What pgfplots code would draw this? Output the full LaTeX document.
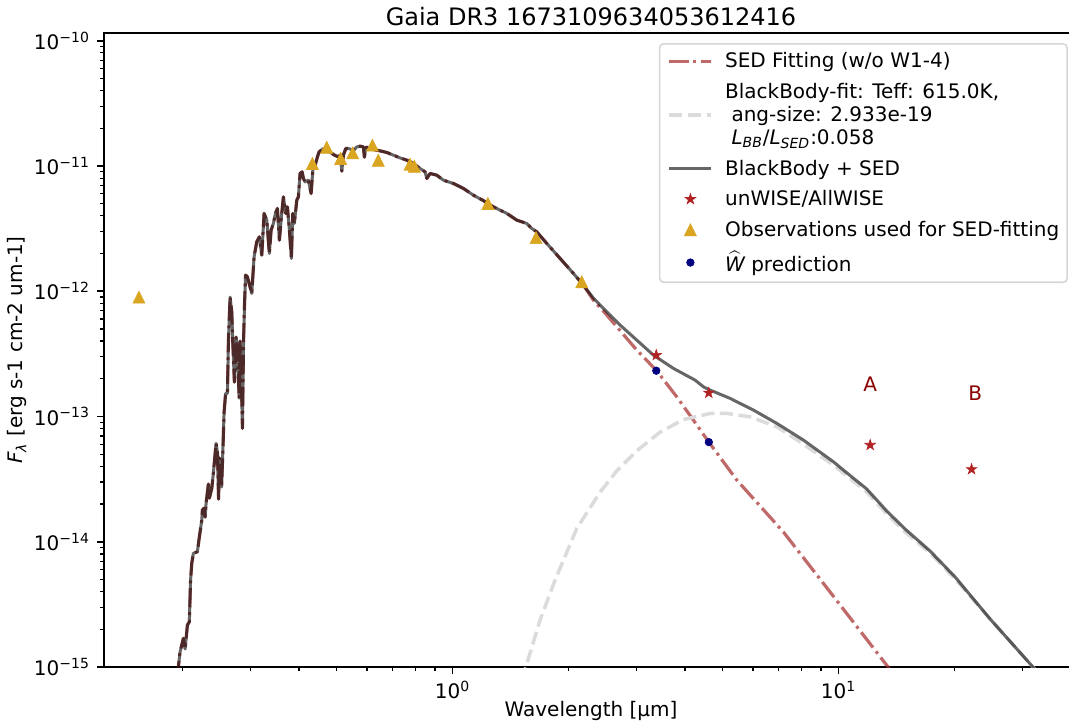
\documentclass[border=0pt]{standalone}
\usepackage{fontspec}
\setmainfont{DejaVu Sans}
\usepackage{pgfplots}
\pgfplotsset{compat=1.18}
\usepackage{pgfplotstable}

\definecolor{sedbrown}{RGB}{165,42,42}
\definecolor{goldenrod}{RGB}{218,165,32}
\definecolor{firebrick}{RGB}{178,34,34}
\definecolor{navyblue}{RGB}{0,0,128}
\definecolor{darkred}{RGB}{139,0,0}

% filled five-pointed star
\pgfdeclareplotmark{wstar}{%
  \pgfpathmoveto{\pgfpointpolar{90}{\pgfplotmarksize}}%
  \pgfpathlineto{\pgfpointpolar{126}{0.382\pgfplotmarksize}}%
  \pgfpathlineto{\pgfpointpolar{162}{\pgfplotmarksize}}%
  \pgfpathlineto{\pgfpointpolar{198}{0.382\pgfplotmarksize}}%
  \pgfpathlineto{\pgfpointpolar{234}{\pgfplotmarksize}}%
  \pgfpathlineto{\pgfpointpolar{270}{0.382\pgfplotmarksize}}%
  \pgfpathlineto{\pgfpointpolar{306}{\pgfplotmarksize}}%
  \pgfpathlineto{\pgfpointpolar{342}{0.382\pgfplotmarksize}}%
  \pgfpathlineto{\pgfpointpolar{18}{\pgfplotmarksize}}%
  \pgfpathlineto{\pgfpointpolar{54}{0.382\pgfplotmarksize}}%
  \pgfpathclose
  \pgfusepathqfillstroke}
% upward triangle, as wide as it is tall
\pgfdeclareplotmark{utri}{%
  \pgfpathmoveto{\pgfqpoint{0pt}{\pgfplotmarksize}}%
  \pgfpathlineto{\pgfqpoint{-\pgfplotmarksize}{-\pgfplotmarksize}}%
  \pgfpathlineto{\pgfqpoint{\pgfplotmarksize}{-\pgfplotmarksize}}%
  \pgfpathclose
  \pgfusepathqfillstroke}

% model spectrum, shared by the SED fit and the BlackBody + SED curve
\pgfplotstableread{
x y
0.1939 7.876e-16
0.1948 1.000e-15
0.1968 1.317e-15
0.2007 1.694e-15
0.2028 1.392e-15
0.2056 2.164e-15
0.2080 2.299e-15
0.2095 4.946e-15
0.2110 6.723e-15
0.2130 8.080e-15
0.2182 8.320e-15
0.2208 1.096e-14
0.2240 1.490e-14
0.2248 1.791e-14
0.2271 1.858e-14
0.2285 1.574e-14
0.2298 2.025e-14
0.2330 2.887e-14
0.2344 2.233e-14
0.2378 2.683e-14
0.2400 3.515e-14
0.2439 6.100e-14
0.2459 5.198e-14
0.2476 2.192e-14
0.2491 4.656e-14
0.2509 3.534e-14
0.2521 2.733e-14
0.2539 5.104e-14
0.2559 1.084e-13
0.2582 1.529e-13
0.2610 1.529e-13
0.2626 4.070e-13
0.2652 8.974e-13
0.2679 6.811e-13
0.2695 3.853e-13
0.2721 1.882e-13
0.2749 4.302e-13
0.2777 2.979e-13
0.2799 1.402e-13
0.2815 3.998e-13
0.2832 2.346e-13
0.2855 8.035e-14
0.2874 4.070e-13
0.2891 8.035e-13
0.2909 1.345e-12
0.2940 1.303e-12
0.2979 1.119e-12
0.3018 9.603e-13
0.3060 1.882e-12
0.3109 2.480e-12
0.3158 2.718e-12
0.3204 1.942e-12
0.3248 4.178e-12
0.3301 3.694e-12
0.3352 2.003e-12
0.3387 3.073e-12
0.3434 3.476e-12
0.3475 4.178e-12
0.3517 4.580e-12
0.3559 2.557e-12
0.3602 3.925e-12
0.3645 5.667e-12
0.3698 4.178e-12
0.3733 4.716e-12
0.3778 3.073e-12
0.3823 1.827e-12
0.3855 4.178e-12
0.3892 3.476e-12
0.3948 5.334e-12
0.3986 5.667e-12
0.4026 8.711e-12
0.4075 8.972e-12
0.4107 7.947e-12
0.4149 7.467e-12
0.4231 7.704e-12
0.4300 6.032e-12
0.4344 9.259e-12
0.4405 1.015e-11
0.4465 1.182e-11
0.4510 1.296e-11
0.4627 1.379e-11
0.4767 1.320e-11
0.4941 1.220e-11
0.5060 1.182e-11
0.5111 1.220e-11
0.5164 9.090e-12
0.5213 1.220e-11
0.5288 1.379e-11
0.5372 1.379e-11
0.5534 1.337e-11
0.5647 1.420e-11
0.5760 1.439e-11
0.5874 1.420e-11
0.5909 1.175e-11
0.5958 1.405e-11
0.6114 1.405e-11
0.6234 1.354e-11
0.6489 1.320e-11
0.6753 1.282e-11
0.7024 1.220e-11
0.7311 1.160e-11
0.7608 1.113e-11
0.7913 1.047e-11
0.8237 9.550e-12
0.8487 8.972e-12
0.8574 7.947e-12
0.8743 8.711e-12
0.9101 8.445e-12
0.9467 7.704e-12
1.005 7.249e-12
1.067 6.612e-12
1.132 5.847e-12
1.202 5.285e-12
1.276 4.716e-12
1.382 4.178e-12
1.467 3.694e-12
1.557 3.476e-12
1.604 3.171e-12
1.652 2.979e-12
1.754 2.407e-12
1.899 1.827e-12
2.056 1.387e-12
2.182 1.119e-12
}\spectrum

% SED fit beyond the spectrum (w/o W1-4)
\pgfplotstableread{
x y
2.182 1.119e-12
2.316 8.490e-13
2.484 6.687e-13
2.664 5.198e-13
3.000 3.387e-13
3.367 2.346e-13
3.808 1.436e-13
4.205 9.360e-14
4.610 6.248e-14
5.448 3.108e-14
7.194 1.196e-14
9.506 3.968e-15
13.43 1.000e-15
14.01 8.320e-16
}\sedtail

% blackbody + SED beyond the spectrum
\pgfplotstableread{
x y
2.182 1.119e-12
2.316 8.810e-13
2.459 7.291e-13
2.717 5.363e-13
3.000 4.070e-13
3.313 3.090e-13
3.733 2.421e-13
4.248 1.952e-13
4.465 1.726e-13
4.599 1.646e-13
5.236 1.395e-13
6.016 1.125e-13
6.918 8.810e-14
8.105 6.482e-14
9.694 4.350e-14
10.29 3.735e-14
11.83 2.634e-14
13.33 1.758e-14
14.87 1.263e-14
17.26 8.430e-15
20.04 5.226e-15
24.69 2.416e-15
31.71 1.018e-15
33.27 8.480e-16
}\combtail

% blackbody fit, Teff = 615 K
\pgfplotstableread{
x y
1.514 7.876e-16
1.548 1.000e-15
1.685 2.372e-15
1.843 4.946e-15
2.098 1.279e-14
2.411 2.493e-14
2.664 3.688e-14
3.000 5.325e-14
3.449 7.507e-14
3.962 9.447e-14
4.647 1.058e-13
5.133 1.058e-13
5.897 9.945e-14
6.918 8.276e-14
8.105 6.020e-14
9.694 4.094e-14
11.83 2.493e-14
13.33 1.664e-14
14.87 1.196e-14
17.26 8.125e-15
20.04 5.040e-15
24.69 2.416e-15
31.71 1.018e-15
33.27 8.480e-16
}\bbfit

% unWISE/AllWISE photometry W1-W4
\pgfplotstableread{
x y
3.37 3.09e-13
4.61 1.545e-13
12.07 5.92e-14
22.1 3.79e-14
}\wise

% photometry used for the SED fit
\pgfplotstableread{
x y
0.154 8.97e-13
0.4333 1.047e-11
0.472 1.41e-11
0.513 1.148e-11
0.551 1.274e-11
0.620 1.466e-11
0.642 1.11e-11
0.776 1.033e-11
0.796 9.95e-12
1.234 5.02e-12
1.645 2.68e-12
2.161 1.19e-12
}\obs

% predicted W1, W2
\pgfplotstableread{
x y
3.37 2.32e-13
4.61 6.25e-14
}\wpred

\begin{document}
\begin{tikzpicture}
\useasboundingbox (0,0) rectangle (534.5pt,362pt);
\begin{axis}[
  at={(52pt,28.5pt)}, anchor=south west,
  scale only axis, width=487pt, height=317pt,
  xmode=log, ymode=log,
  xmin=0.125, xmax=41.7, ymin=1e-15, ymax=1.152e-10,
  axis line style={line width=0.8pt},
  tick align=outside, xtick pos=bottom, ytick pos=left,
  major tick length=3.5pt, minor tick length=2pt,
  major tick style={black, line width=0.8pt},
  minor tick style={black, line width=0.6pt},
  xtick={1,10},
  xticklabels={10\textsuperscript{0},10\textsuperscript{1}},
  minor xtick={0.2,0.3,0.4,0.5,0.6,0.7,0.8,0.9,2,3,4,5,6,7,8,9,20,30,40},
  ytick={1e-15,1e-14,1e-13,1e-12,1e-11,1e-10},
  yticklabels={10\textsuperscript{−15},10\textsuperscript{−14},10\textsuperscript{−13},10\textsuperscript{−12},10\textsuperscript{−11},10\textsuperscript{−10}},
  minor ytick={2e-15,3e-15,4e-15,5e-15,6e-15,7e-15,8e-15,9e-15,
               2e-14,3e-14,4e-14,5e-14,6e-14,7e-14,8e-14,9e-14,
               2e-13,3e-13,4e-13,5e-13,6e-13,7e-13,8e-13,9e-13,
               2e-12,3e-12,4e-12,5e-12,6e-12,7e-12,8e-12,9e-12,
               2e-11,3e-11,4e-11,5e-11,6e-11,7e-11,8e-11,9e-11},
  ticklabel style={font=\fontsize{10}{12}\selectfont},
  title={Gaia DR3 1673109634053612416},
  title style={font=\fontsize{12}{14.4}\selectfont, at={(axis description cs:0.5,1.0252)}, anchor=center, yshift=-6pt},
  xlabel={Wavelength [µm]},
  xlabel style={font=\fontsize{10}{12}\selectfont, at={(axis description cs:0.5,-0.0694)}, anchor=center},
  ylabel={{\itshape F}\textsubscript{\itshape λ} [erg s-1 cm-2 um-1]},
  ylabel style={font=\fontsize{10}{12}\selectfont, at={(axis description cs:-0.0893,0.5)}, anchor=center},
  legend image code/.code={\draw[mark repeat=2,mark phase=2,#1] plot coordinates {(0pt,0pt) (10.5pt,0pt) (21pt,0pt)};},
  legend cell align=left,
  legend style={at={(axis description cs:0.9897,0.9842)}, anchor=north east,
    draw=black!16, line width=0.8pt, rounded corners=2pt, fill=white,
    inner xsep=4pt, inner ysep=4pt,
    font=\fontsize{10}{11.5}\selectfont,
    row sep=5.75pt, column sep=6pt,
    nodes={inner sep=0pt, align=left}},
  sedline/.style={sedbrown, draw opacity=0.7, line width=1.6pt, line join=round,
    dash pattern=on 9.6pt off 2.4pt on 1.5pt off 2.4pt},
  combline/.style={black, draw opacity=0.6, line width=1.5pt, line join=round, solid},
  starmark/.style={only marks, mark=wstar, mark size=2.8pt,
    mark options={fill=firebrick, draw=firebrick, line width=0.3pt, solid, sharp corners}},
  trimark/.style={only marks, mark=utri, mark size=3pt,
    mark options={fill=goldenrod, draw=goldenrod, line width=0.3pt, solid, sharp corners}},
  dotmark/.style={only marks, mark=*, mark size=1.9pt,
    mark options={fill=navyblue, draw=navyblue, line width=0.3pt, solid}},
]
% photometry lies beneath the model curves
\addplot[starmark, forget plot] table {\wise};
\addplot[trimark, forget plot] table {\obs};
\addplot[dotmark, forget plot] table {\wpred};

\addplot[sedline, forget plot] table {\spectrum};
\addplot[sedline] table {\sedtail};
\addlegendentry{\strut SED Fitting (w/o W1-4)}

\addplot[black!14, line width=1.75pt, dash pattern=on 6.5pt off 2.8pt] table {\bbfit};
\addlegendentry{\strut BlackBody-fit: Teff: 615.0K,\\\ ang-size: 2.933e-19\\\ {\itshape L}\textsubscript{\itshape BB}/{\itshape L}\textsubscript{\itshape SED}:0.058\strut}

\addplot[combline, forget plot] table {\spectrum};
\addplot[combline] table {\combtail};
\addlegendentry{\strut BlackBody + SED}

\addlegendimage{starmark}
\addlegendentry{\strut unWISE/AllWISE}
\addlegendimage{trimark}
\addlegendentry{\strut Observations used for SED-fitting}
\addlegendimage{dotmark}
\addlegendentry{\strut$\widehat{\hbox{\itshape W}}$ prediction}

\node[text=darkred, font=\fontsize{10}{12}\selectfont] at (axis cs:12.07,1.82e-13) {A};
\node[text=darkred, font=\fontsize{10}{12}\selectfont] at (axis cs:22.6,1.54e-13) {B};
\end{axis}
\end{tikzpicture}
\end{document}
